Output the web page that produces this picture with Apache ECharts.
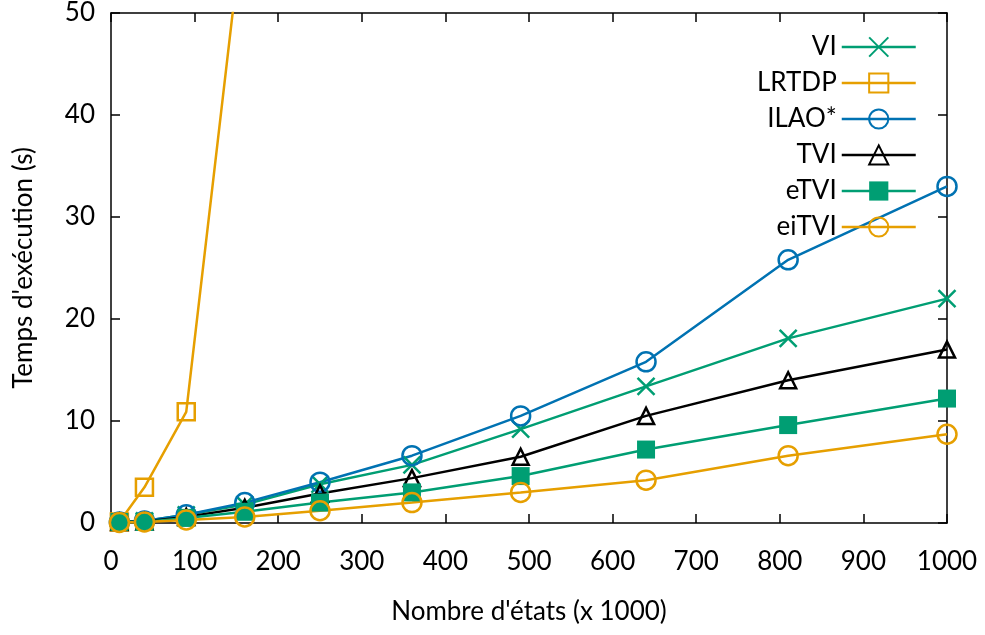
<!DOCTYPE html>
<html lang="fr">
<head>
    <meta charset="UTF-8">
    <title>Temps d'exécution</title>
    <style type="text/css">
        body{
            margin: 0;
            background-color: #ffffff;
        }
        #chart{
            width: 985px;
            height: 635px;
        }
    </style>
</head>
<body>
<div id="chart"></div>
</body>
<script src="https://cdn.jsdelivr.net/npm/echarts@6/dist/echarts.min.js"></script>

<script type="text/javascript">
    var states = [10, 40, 90, 160, 250, 360, 490, 640, 810, 1000];
    var vi    = [0.1, 0.2, 0.8, 1.8, 3.8, 5.7, 9.2, 13.4, 18.1, 22.0];
    var lrtdp = [0.1, 3.5, 10.9, 60.2];
    var ilao  = [0.1, 0.2, 0.8, 2.0, 4.0, 6.6, 10.5, 15.8, 25.8, 33.0];
    var tvi   = [0.1, 0.15, 0.6, 1.5, 2.9, 4.4, 6.5, 10.5, 14.0, 17.0];
    var etvi  = [0.1, 0.1, 0.5, 1.1, 2.0, 3.0, 4.6, 7.2, 9.6, 12.2];
    var eitvi = [0.05, 0.1, 0.3, 0.6, 1.2, 2.0, 3.0, 4.2, 6.6, 8.7];

    var green = '#009e73', orange = '#e69f00', blue = '#0072b2', black = '#000000';
    var font = 'Lato';
    var fs = 26;

    function pts(ys){
        var out = [];
        for (var i = 0; i < ys.length; i++) out.push([states[i], ys[i]]);
        return out;
    }
    // open markers: stroke only, no fill
    function serie(name, ys, color, symbol, size, filled){
        return {
            name: name,
            type: 'line',
            data: pts(ys),
            symbol: symbol,
            symbolSize: size,
            showAllSymbol: true,
            clip: true,
            lineStyle: {color: color, width: 2.5},
            itemStyle: filled ?
                {color: color, borderWidth: 0} :
                {color: 'none', borderColor: color, borderWidth: 2.5},
            emphasis: {disabled: true}
        };
    }
    function plain(v){ return String(v); }

    var tick = {inside: true, length: 9, lineStyle: {color: '#000', width: 1.5}};
    var line = {show: true, onZero: false, lineStyle: {color: '#000', width: 1.5}};

    var chart = echarts.init(document.getElementById('chart'));
    chart.setOption({
        animation: false,
        textStyle: {fontFamily: font},
        grid: {left: 111, right: 38, top: 11, bottom: 112},
        legend: {
            orient: 'vertical',
            align: 'right',
            right: 63,
            top: 29,
            itemWidth: 74,
            itemHeight: 24,
            itemGap: 10,
            lineStyle: {width: 2.5},
            textStyle: {fontFamily: font, fontSize: fs, color: '#000', lineHeight: 25.6},
            data: ['VI', 'LRTDP', 'ILAO*', 'TVI', 'eTVI', 'eiTVI']
        },
        xAxis: [{
            type: 'value',
            min: 0, max: 1000, interval: 100,
            name: "Nombre d'états (x 1000)",
            nameLocation: 'middle',
            nameGap: 76,
            nameTextStyle: {fontFamily: font, fontSize: fs, color: '#000'},
            axisLine: line,
            axisTick: tick,
            axisLabel: {fontFamily: font, fontSize: fs, color: '#000', margin: 26, formatter: plain},
            splitLine: {show: false}
        }, {
            type: 'value', position: 'top',
            min: 0, max: 1000, interval: 100,
            axisLine: line,
            axisTick: tick,
            axisLabel: {show: false},
            splitLine: {show: false}
        }],
        yAxis: [{
            type: 'value',
            min: 0, max: 50, interval: 10,
            name: "Temps d'exécution (s)",
            nameLocation: 'middle',
            nameGap: 74,
            nameTextStyle: {fontFamily: font, fontSize: fs, color: '#000'},
            axisLine: line,
            axisTick: tick,
            axisLabel: {fontFamily: font, fontSize: fs, color: '#000', margin: 16, formatter: plain},
            splitLine: {show: false}
        }, {
            type: 'value', position: 'right',
            min: 0, max: 50, interval: 10,
            axisLine: line,
            axisTick: tick,
            axisLabel: {show: false},
            splitLine: {show: false}
        }],
        series: [
            serie('VI', vi, green, 'path://M0,0L10,10M10,0L0,10', 17, false),
            serie('LRTDP', lrtdp, orange, 'rect', 17, false),
            serie('ILAO*', ilao, blue, 'circle', 19, false),
            serie('TVI', tvi, black, 'triangle', 16, false),
            serie('eTVI', etvi, green, 'rect', 18, true),
            serie('eiTVI', eitvi, orange, 'circle', 19, false)
        ]
    });
</script>

</html>
